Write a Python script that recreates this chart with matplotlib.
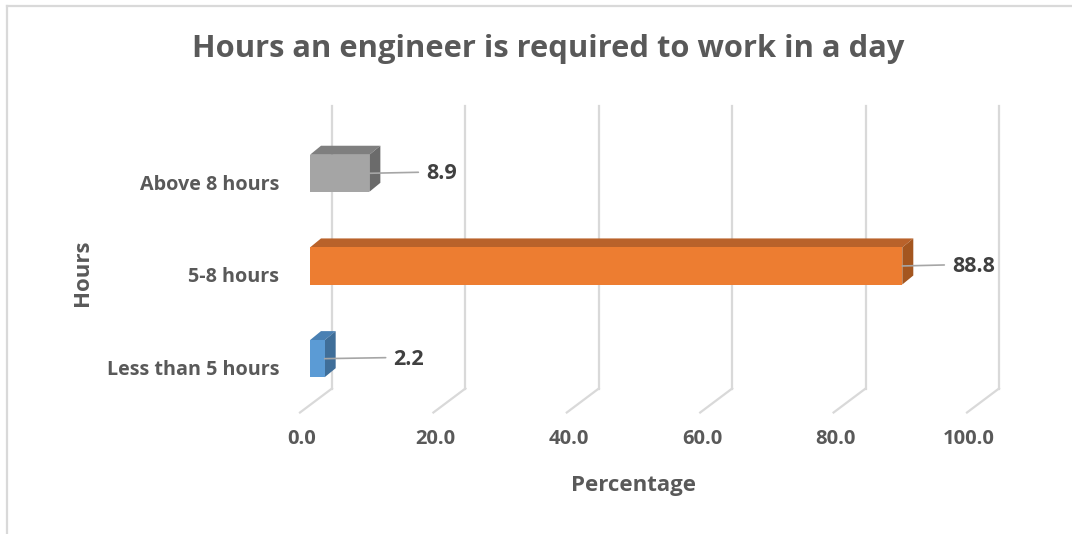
import matplotlib
matplotlib.use("Agg")
from matplotlib import pyplot as plt
from matplotlib import transforms
from matplotlib.patches import Polygon
from matplotlib.lines import Line2D

categories = ["Less than 5 hours", "5-8 hours", "Above 8 hours"]
values = [2.2, 88.8, 8.9]
xticks = [0, 20, 40, 60, 80, 100]
xtick_labels = ["0.0", "20.0", "40.0", "60.0", "80.0", "100.0"]
title = "Hours an engineer is required to work in a day"

front_cols = ["#5B9BD5", "#ED7D31", "#A5A5A5"]
top_cols = ["#4A80B3", "#B9622A", "#7F7F7F"]
side_cols = ["#3F6E99", "#A4561F", "#6B6B6B"]
leader_len = [61, 42, 49]   # px

plt.rcParams['font.family'] = ['Open Sans', 'DejaVu Sans']
txt = "#595959"

fig = plt.figure(figsize=(10.72, 5.34), dpi=100)
W, H = 1072, 534
# axes placed on the plane of the bars (pixels)
ax = fig.add_axes([310 / W, (H - 405) / H, 667 / W, (405 - 122.3) / H])
ax.set_xlim(0, 100)
ax.set_ylim(-0.5, 2.55)
for s in ax.spines.values():
    s.set_visible(False)
ax.tick_params(length=0)

# chart border
fig.add_artist(Line2D([6.5 / W, 6.5 / W], [0, (H - 5.5) / H], color="#D9D9D9", lw=1.6))
fig.add_artist(Line2D([6.5 / W, 1], [(H - 5.5) / H, (H - 5.5) / H], color="#D9D9D9", lw=1.6))

back = transforms.offset_copy(ax.transData, fig=fig, x=22, y=16.5, units='dots')
front = transforms.offset_copy(ax.transData, fig=fig, x=-10, y=-7.5, units='dots')
ylo, yhi = ax.get_ylim()

# gridlines: back wall + floor diagonal
for v in xticks:
    ax.plot([v, v], [ylo, yhi], color="#D9D9D9", lw=1.6, transform=back, clip_on=False, zorder=1)
    p0 = back.transform((v, ylo))
    p1 = front.transform((v, ylo))
    fig.add_artist(Line2D([p0[0] / W, p1[0] / W], [p0[1] / H, p1[1] / H], color="#D9D9D9", lw=1.6))

# 3D bars
h = 0.40
px_per_x = ax.bbox.width / 100
px_per_y = ax.bbox.height / (yhi - ylo)
dx = 11 / px_per_x
dy = 9 / px_per_y
for i, v in enumerate(values):
    b, t = i - h / 2, i + h / 2
    ax.add_patch(Polygon([(0, t), (v, t), (v + dx, t + dy), (dx, t + dy)],
                         closed=True, fc=top_cols[i], ec="none", zorder=3, clip_on=False))
    ax.add_patch(Polygon([(v, b), (v, t), (v + dx, t + dy), (v + dx, b + dy)],
                         closed=True, fc=side_cols[i], ec="none", zorder=3, clip_on=False))
ax.barh(range(len(values)), values, height=h, color=front_cols, zorder=4, clip_on=False)

# value labels with leader lines
for i, v in enumerate(values):
    ax.annotate("", xy=(v, i), xytext=(leader_len[i] / 1.389, 1.0 / 1.389), textcoords="offset points",
                arrowprops=dict(arrowstyle="-", color="#A6A6A6", lw=1.2, shrinkA=0, shrinkB=0), zorder=5)
    ax.annotate(f"{v:.1f}", xy=(v, i), xytext=((leader_len[i] + 8) / 1.389, -0.5 / 1.389),
                textcoords="offset points", ha="left", va="center", fontsize=15.5,
                fontweight="bold", color="#404040", zorder=6)

# ticks
ax.set_xticks(xticks)
ax.set_xticklabels(xtick_labels, fontsize=14.5, fontweight="bold", color=txt)
ax.tick_params(axis="x", pad=17)
for lab in ax.get_xticklabels():
    lab.set_transform(lab.get_transform() + transforms.ScaledTranslation(-8 / 100, 0, fig.dpi_scale_trans))
ax.set_yticks(range(len(categories)))
ax.set_yticklabels(categories, fontsize=14.2, fontweight="bold", color=txt)
ax.tick_params(axis="y", pad=15)
for lab in ax.get_yticklabels():
    lab.set_transform(lab.get_transform() + transforms.ScaledTranslation(-10 / 100, -9 / 100, fig.dpi_scale_trans))
ax.grid(False)

fig.text(633.5 / W, 1 - 485 / H, "Percentage", ha="center", va="center", fontsize=16,
         fontweight="bold", color=txt)
fig.text(82 / W, 1 - 273 / H, "Hours", ha="center", va="center", rotation=90, fontsize=16,
         fontweight="bold", color=txt)
fig.text(548 / W, 1 - 49 / H, title, ha="center", va="center", fontsize=22.2,
         fontweight="bold", color=txt)

fig.savefig("out.png", dpi=100)
